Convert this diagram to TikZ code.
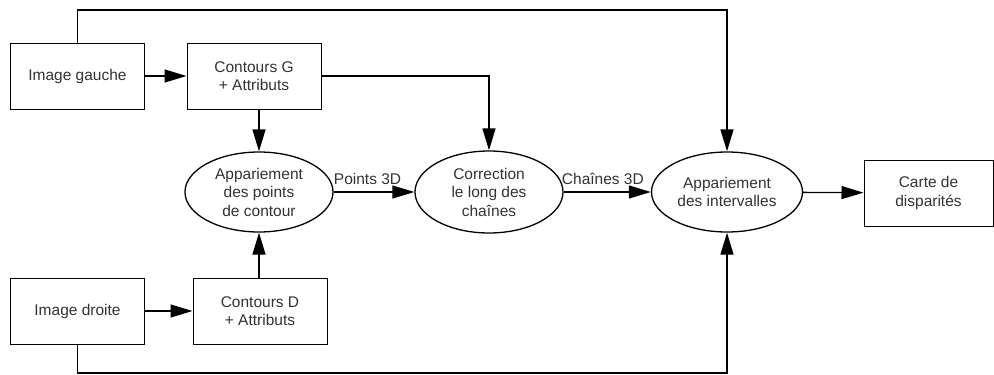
\documentclass[tikz,border=0pt]{standalone}
\usepackage{fontspec}
\setmainfont{Liberation Sans}
\usetikzlibrary{shapes.geometric, arrows.meta}
\definecolor{textgrey}{RGB}{50, 50, 50}

\begin{document}
\begin{tikzpicture}[
    x=1pt, y=-1pt,
    every node/.style={font=\fontsize{15.5}{18.5}\selectfont, text=textgrey, align=center},
    boite/.style={draw, line width=1pt, inner sep=0pt, minimum width=134pt, minimum height=66pt},
    bulle/.style={ellipse, draw, line width=1.3pt, inner sep=0pt, minimum width=148pt, minimum height=80pt},
    fleche/.style={line width=1.3pt, -{Triangle[length=22pt, width=13pt]}},
]
    \useasboundingbox (0,0) rectangle (994,375);
    \node[boite] (imageG) at (77.5,76) {Image gauche};
    \node[boite] (contG) at (254,76) {Contours G\\+ Attributs};
    \node[boite] (imageD) at (77.5,311) {Image droite};
    \node[boite] (contD) at (260,311) {Contours D\\+ Attributs};
    \node[bulle] (appP) at (259,192) {Appariement\\des points\\de contour};
    \node[bulle, minimum height=82pt] (corr) at (489,192) {Correction\\le long des\\chaînes};
    \node[bulle, minimum width=151pt] (appI) at (727,192) {Appariement\\des intervalles};
    \node[boite, minimum width=129pt] (carte) at (928.5,193) {Carte de\\disparités};
    \coordinate (hautG) at (77.5,10);
    \coordinate (basD) at (77.5,373);
    \draw[fleche] (imageG) -- (contG);
    \draw[fleche] (imageD) -- (contD);
    \draw[fleche] (appP.north |- contG.south) -- (appP.north);
    \draw[fleche] (appP.south |- contD.north) -- (appP.south);
    \draw[fleche] (contG.east) -| (corr.north);
    \draw[fleche] (imageG.north) -- (hautG) -| (appI.north);
    \draw[fleche] (imageD.south) -- (basD) -| (appI.south);
    \draw[fleche] (appP) -- node[above=3pt, pos=0.42] (pts) {Points 3D} (corr);
    \draw[fleche] (corr) -- node[above=3pt, pos=0.45] (chn) {Chaînes 3D} (appI);
    \draw[fleche] (appI) -- (carte);
\end{tikzpicture}
\end{document}
